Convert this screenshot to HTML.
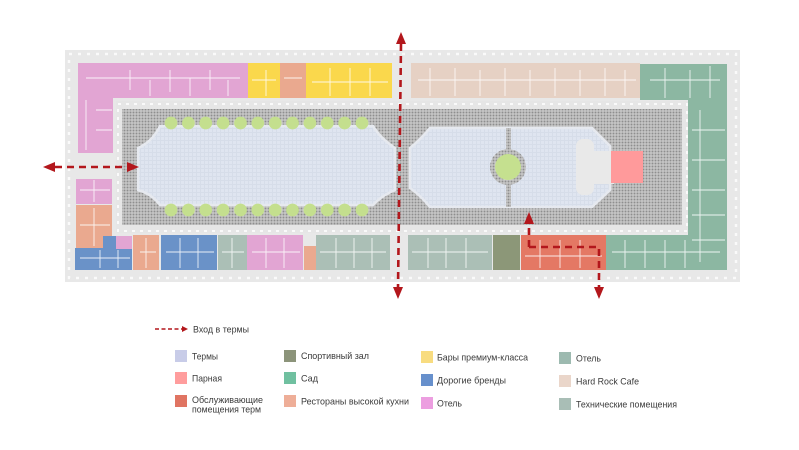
<!DOCTYPE html>
<html><head><meta charset="utf-8"><style>
html,body{margin:0;padding:0;background:#fff;}
svg{display:block;}
text{font-family:"Liberation Sans","DejaVu Sans",sans-serif;fill:#3a3a3a;}
</style></head><body>
<svg width="799" height="450" viewBox="0 0 799 450" xmlns="http://www.w3.org/2000/svg">
<defs>
<pattern id="chk" width="3" height="3" patternUnits="userSpaceOnUse">
<rect width="3" height="3" fill="#d4d4d4"/><rect x="0.5" y="0.5" width="2" height="2" fill="#8e8e8e"/>
</pattern>
<pattern id="pool" width="4" height="4" patternUnits="userSpaceOnUse">
<rect width="4" height="4" fill="#dfe5f0"/><rect x="0" y="0" width="4" height="1" fill="#d6dde9"/><rect x="0" y="0" width="1" height="4" fill="#d6dde9"/>
</pattern>
</defs>

<!-- site -->
<rect x="65" y="50" width="675" height="232" fill="#e8e8e8"/>
<rect x="69" y="54" width="667" height="224" fill="none" stroke="#fafafa" stroke-width="2.5" stroke-dasharray="3 6"/>

<!-- courtyard ring -->
<rect x="116" y="101" width="573" height="132" fill="#e6e6e6"/>
<rect x="118" y="104" width="569" height="127" fill="none" stroke="#fafafa" stroke-width="2" stroke-dasharray="3 5"/>
<!-- checker courtyard -->
<rect x="122" y="109" width="560" height="116" fill="url(#chk)"/>

<!-- left pool -->
<path d="M160,126 L373,126 Q380,138 395,148 L395,190 Q381,196 373,205 L160,205 Q152,194 138,190 L138,148 Q152,142 160,126 Z" fill="url(#pool)" stroke="#e6e9ef" stroke-width="2.5"/>
<!-- right pool -->
<path d="M430,128 L592,128 L610,146 L610,190 L592,207 L430,207 Q420,195 410,188 L410,148 Q420,140 430,128 Z" fill="url(#pool)" stroke="#e6e9ef" stroke-width="2.5"/>
<!-- divider + halo -->
<rect x="506" y="128" width="5" height="79" fill="url(#chk)"/>
<circle cx="508" cy="167" r="18" fill="url(#chk)"/>
<circle cx="508" cy="167" r="13" fill="#c5e08f"/>
<!-- bottle -->
<rect x="576" y="139" width="18" height="56" rx="7" fill="#e9e9e9"/>
<rect x="590" y="151" width="24" height="33" fill="#e9e9e9"/>
<rect x="611" y="151" width="32" height="32" fill="#ff9a9b"/>

<!-- green circles -->
<g fill="#c4df8e">
<circle cx="171" cy="123" r="6.4"/><circle cx="188.4" cy="123" r="6.4"/><circle cx="205.7" cy="123" r="6.4"/><circle cx="223.1" cy="123" r="6.4"/><circle cx="240.5" cy="123" r="6.4"/><circle cx="257.8" cy="123" r="6.4"/><circle cx="275.2" cy="123" r="6.4"/><circle cx="292.5" cy="123" r="6.4"/><circle cx="309.9" cy="123" r="6.4"/><circle cx="327.3" cy="123" r="6.4"/><circle cx="344.6" cy="123" r="6.4"/><circle cx="362" cy="123" r="6.4"/>
<circle cx="171" cy="210" r="6.4"/><circle cx="188.4" cy="210" r="6.4"/><circle cx="205.7" cy="210" r="6.4"/><circle cx="223.1" cy="210" r="6.4"/><circle cx="240.5" cy="210" r="6.4"/><circle cx="257.8" cy="210" r="6.4"/><circle cx="275.2" cy="210" r="6.4"/><circle cx="292.5" cy="210" r="6.4"/><circle cx="309.9" cy="210" r="6.4"/><circle cx="327.3" cy="210" r="6.4"/><circle cx="344.6" cy="210" r="6.4"/><circle cx="362" cy="210" r="6.4"/>
</g>

<!-- buildings top -->
<rect x="78" y="63" width="170" height="35" fill="#e2a5d3"/>
<rect x="78" y="63" width="35" height="90" fill="#e2a5d3"/>
<rect x="248" y="63" width="32" height="35" fill="#fad84c"/>
<rect x="280" y="63" width="26" height="35" fill="#eaa98f"/>
<rect x="306" y="63" width="86" height="35" fill="#fad84c"/>
<rect x="411" y="63" width="229" height="35" fill="#e6d1c4"/>
<rect x="640" y="64" width="87" height="36" fill="#8cb7a2"/>
<rect x="688" y="64" width="39" height="206" fill="#8cb7a2"/>
<rect x="606" y="235" width="121" height="35" fill="#8cb7a2"/>
<!-- left -->
<rect x="76" y="179" width="36" height="25" fill="#e2a5d3"/>
<rect x="76" y="205" width="36" height="43" fill="#eaa98f"/>
<!-- bottom -->
<rect x="75" y="248" width="57" height="22" fill="#6a92c8"/>
<rect x="103" y="236" width="13" height="12" fill="#6a92c8"/>
<rect x="116" y="236" width="16" height="13" fill="#e2a5d3"/>
<rect x="133" y="235" width="26" height="35" fill="#eaa98f"/>
<rect x="161" y="235" width="56" height="35" fill="#6a92c8"/>
<rect x="218" y="235" width="29" height="35" fill="#abbfb6"/>
<rect x="247" y="235" width="56" height="35" fill="#e2a5d3"/>
<rect x="304" y="246" width="12" height="24" fill="#eaa98f"/>
<rect x="316" y="235" width="74" height="35" fill="#abbfb6"/>
<rect x="408" y="235" width="84" height="35" fill="#abbfb6"/>
<rect x="493" y="235" width="27" height="35" fill="#8c9778"/>
<rect x="521" y="235" width="85" height="35" fill="#e47864"/>

<!-- white plan details -->
<g stroke="#fff" stroke-width="0.9" fill="none" opacity="0.85">
<path d="M86,78 H240 M130,70 V90 M150,80 V96 M170,70 V92 M190,78 V96 M210,70 V90 M228,80 V96 M86,100 V150 M96,110 H112 M96,130 H112"/>
<path d="M252,80 H276 M266,70 V96 M284,78 H302 M312,82 H388 M330,68 V96 M350,68 V96 M370,68 V96"/>
<path d="M418,80 H636 M430,68 V96 M455,68 V96 M480,70 V96 M505,68 V96 M530,70 V96 M555,68 V96 M580,70 V96 M605,68 V96 M625,70 V96"/>
<path d="M650,80 H720 M665,68 V98 M690,70 V98 M710,66 V98 M700,110 V262 M692,130 H725 M692,160 H725 M692,190 H725 M692,215 H725 M692,240 H725"/>
<path d="M612,252 H720 M625,240 V268 M645,240 V268 M665,240 V268 M685,240 V268"/>
<path d="M80,190 H110 M94,180 V202 M80,225 H110 M94,208 V246"/>
<path d="M80,258 H130 M100,250 V268 M118,250 V268 M140,252 H156 M146,238 V268 M166,252 H214 M180,238 V268 M198,238 V268 M222,252 H244 M232,238 V268 M252,252 H300 M266,238 V268 M284,238 V268 M320,252 H386 M336,238 V268 M354,238 V268 M372,238 V268"/>
<path d="M412,252 H488 M428,238 V268 M446,238 V268 M466,238 V268 M525,256 H602 M540,240 V268 M560,240 V268 M580,240 V268"/>
</g>

<!-- arrows -->
<g stroke="#b3171c" stroke-width="2.6" fill="none" stroke-dasharray="7 5">
<path d="M401,44 L398,288"/>
<path d="M55,167 H128"/>
<path d="M529,247 V222"/>
<path d="M529,247 H599 V288"/>
</g>
<g fill="#b3171c">
<path d="M396,44 L406,44 L401,32 Z"/>
<path d="M393,287 L403,287 L398,299 Z"/>
<path d="M55,162 L55,172 L43,167 Z"/>
<path d="M127,162 L127,172 L139,167 Z"/>
<path d="M524,224 L534,224 L529,212 Z"/>
<path d="M594,287 L604,287 L599,299 Z"/>
</g>

<!-- legend -->
<path d="M155,329 H182" stroke="#b3171c" stroke-width="1.6" stroke-dasharray="4 2.5" fill="none"/>
<path d="M182,326 L182,332 L188,329 Z" fill="#b3171c"/>
<text x="193" y="332.5" font-size="9.5" textLength="56" lengthAdjust="spacingAndGlyphs">Вход в термы</text>

<rect x="175" y="350" width="12" height="12" fill="#c8cce8"/>
<rect x="175" y="372" width="12" height="12" fill="#ff9d9d"/>
<rect x="175" y="395" width="12" height="12" fill="#e07462"/>
<text x="192" y="359.5" font-size="9.5" textLength="26" lengthAdjust="spacingAndGlyphs">Термы</text>
<text x="192" y="381.5" font-size="9.5" textLength="30" lengthAdjust="spacingAndGlyphs">Парная</text>
<text x="192" y="403" font-size="9.5" textLength="71" lengthAdjust="spacingAndGlyphs">Обслуживающие</text>
<text x="192" y="412.5" font-size="9.5" textLength="69" lengthAdjust="spacingAndGlyphs">помещения терм</text>

<rect x="284" y="350" width="12" height="12" fill="#8c947a"/>
<rect x="284" y="372" width="12" height="12" fill="#70c0a0"/>
<rect x="284" y="395" width="12" height="12" fill="#eeae98"/>
<text x="301" y="359" font-size="9.5" textLength="68" lengthAdjust="spacingAndGlyphs">Спортивный зал</text>
<text x="301" y="381.5" font-size="9.5" textLength="17" lengthAdjust="spacingAndGlyphs">Сад</text>
<text x="301" y="404.5" font-size="9.5" textLength="108" lengthAdjust="spacingAndGlyphs">Рестораны высокой кухни</text>

<rect x="421" y="351" width="12" height="12" fill="#f8dc80"/>
<rect x="421" y="374" width="12" height="12" fill="#6790cc"/>
<rect x="421" y="397" width="12" height="12" fill="#ec9ee0"/>
<text x="437" y="360.5" font-size="9.5" textLength="91" lengthAdjust="spacingAndGlyphs">Бары премиум-класса</text>
<text x="437" y="383.5" font-size="9.5" textLength="69" lengthAdjust="spacingAndGlyphs">Дорогие бренды</text>
<text x="437" y="406.5" font-size="9.5" textLength="25" lengthAdjust="spacingAndGlyphs">Отель</text>

<rect x="559" y="352" width="12" height="12" fill="#9dbab0"/>
<rect x="559" y="375" width="12" height="12" fill="#ead6ca"/>
<rect x="559" y="398" width="12" height="12" fill="#a9beb6"/>
<text x="576" y="361.5" font-size="9.5" textLength="25" lengthAdjust="spacingAndGlyphs">Отель</text>
<text x="576" y="384.5" font-size="9.5" textLength="63" lengthAdjust="spacingAndGlyphs">Hard Rock Cafe</text>
<text x="576" y="407.5" font-size="9.5" textLength="101" lengthAdjust="spacingAndGlyphs">Технические помещения</text>
</svg>
</body></html>
